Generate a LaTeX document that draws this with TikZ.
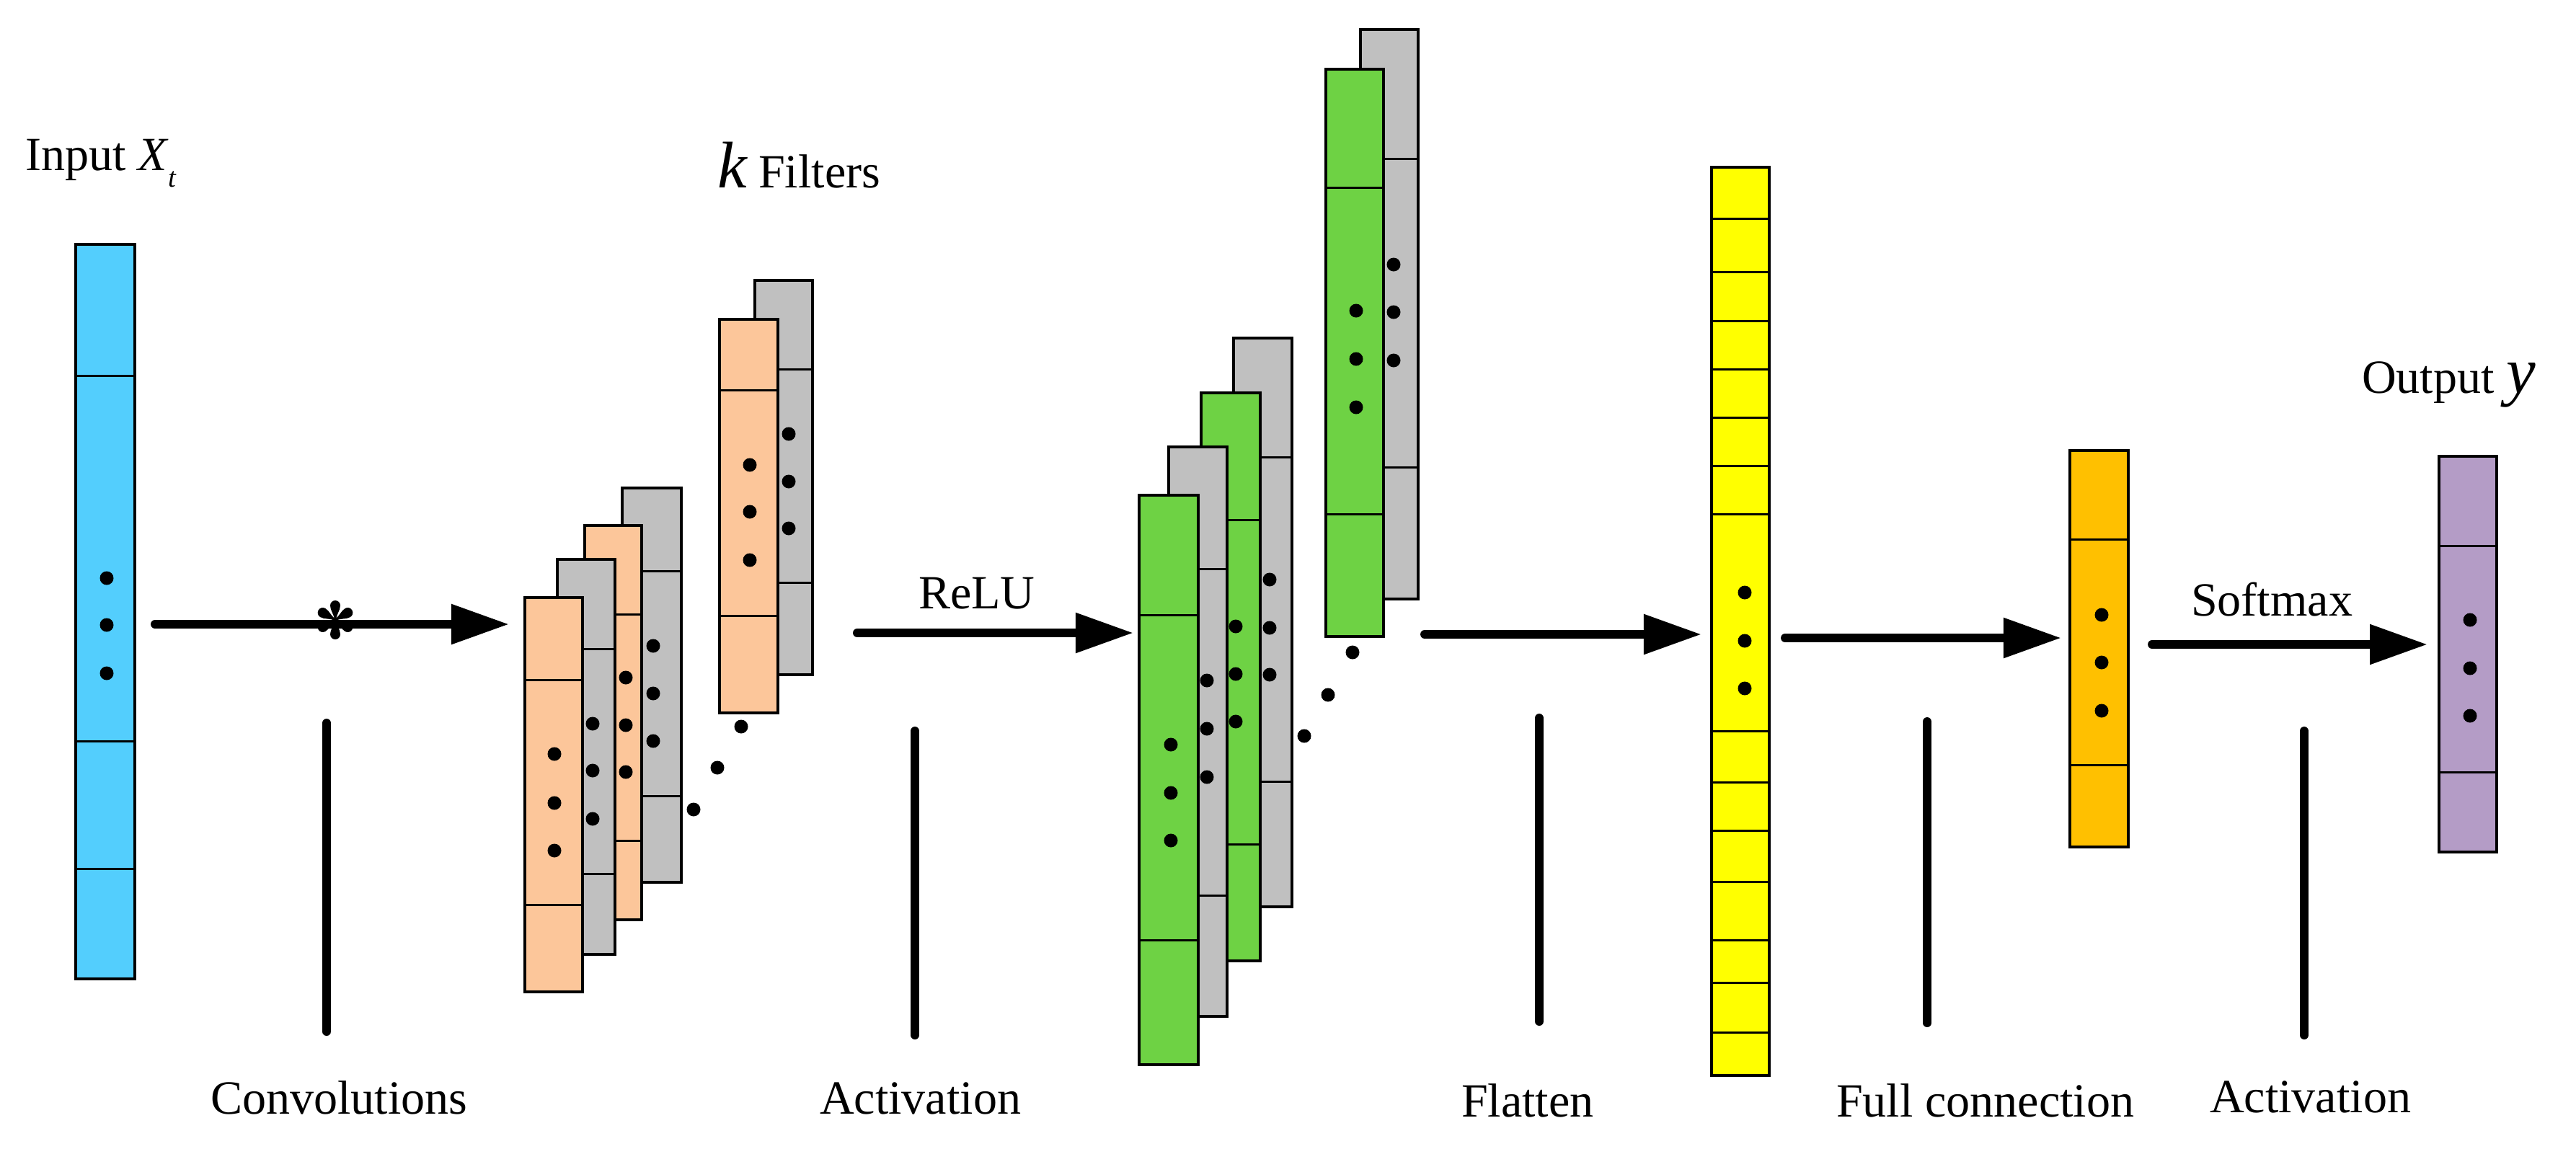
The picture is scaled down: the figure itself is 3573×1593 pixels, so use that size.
\documentclass[tikz,border=0pt]{standalone}
\usepackage{fontspec}
\setmainfont{Liberation Serif}
\usetikzlibrary{arrows.meta,fit}
\definecolor{cblue}{RGB}{83,206,253}
\definecolor{cpeach}{RGB}{252,198,154}
\definecolor{cgrey}{RGB}{192,192,192}
\definecolor{cgreen}{RGB}{110,210,68}
\definecolor{cyellow}{RGB}{255,255,0}
\definecolor{corange}{RGB}{255,192,0}
\definecolor{cpurple}{RGB}{180,156,198}
\tikzset{
 col/.style={draw=black, line width=1.3pt, inner sep=0pt, outer sep=0pt},
 div/.style={line width=0.85pt},
 arr/.style={line width=3.4pt, line cap=round, -{Triangle[length=0.8cm,width=0.53cm]}},
 vbar/.style={line width=3.4pt, line cap=round},
 lbl/.style={anchor=base west, inner sep=0pt, outer sep=0pt, font=\fontsize{18.8}{22}\selectfont},
}
\newcommand\mkcol[9]{%
  \node[col, fill=#2, fit={(#3,#4) (#5,#6)}] (#1) {};
  \foreach \yy in {#7} {\draw[div] (#3,\yy) -- (#5,\yy);}
  \foreach \yy in {#9} {\fill (#8,\yy) circle[radius=9.5];}
}
\newcommand\bigit[1]{{\fontsize{26}{26}\selectfont\itshape #1}}
\begin{document}
\begin{tikzpicture}[x=0.01cm,y=-0.01cm]
\fill[white] (0,0) rectangle (3573,1593);
\useasboundingbox (0,0) rectangle (3573,1593);

% input
\mkcol{inp}{cblue}{105}{339}{187}{1358}{521,1028,1205}{148}{802,867,934}

% convolution feature maps
\mkcol{fB3}{cgrey}{1047}{389}{1127}{936}{512,808}{1094}{602,668,733}
\mkcol{fA3}{cpeach}{998}{443}{1079}{989}{541,854}{1040}{645,710,777}
\mkcol{fB2}{cgrey}{863}{677}{945}{1224}{792,1104}{906}{896,962,1028}
\mkcol{fA2}{cpeach}{811}{729}{890}{1276}{852,1166}{868}{940,1006,1071}
\mkcol{fB1}{cgrey}{773}{776}{853}{1324}{900,1212}{822}{1004,1069,1136}
\mkcol{fA1}{cpeach}{728}{829}{808}{1376}{943,1255}{769}{1046,1114,1180}
\foreach \p in {(962,1123),(995,1065),(1028,1008)} {\fill \p circle[radius=9.5];}

% activation maps
\mkcol{aB3}{cgrey}{1887}{41}{1967}{831}{220,648}{1933}{367,433,500}
\mkcol{aA3}{cgreen}{1839}{96}{1919}{883}{260,713}{1881}{431,498,565}
\mkcol{aB2}{cgrey}{1711}{469}{1792}{1258}{634,1084}{1761}{804,871,936}
\mkcol{aA2}{cgreen}{1666}{545}{1748}{1333}{721,1171}{1714}{869,935,1001}
\mkcol{aB1}{cgrey}{1621}{620}{1702}{1410}{789,1242}{1674}{944,1011,1078}
\mkcol{aA1}{cgreen}{1580}{687}{1662}{1477}{853,1304}{1624}{1033,1100,1166}
\foreach \p in {(1809,1021),(1842,964),(1876,905)} {\fill \p circle[radius=9.5];}

% flatten, full connection, output
\mkcol{flat}{cyellow}{2374}{232}{2454}{1492}{303,377,445,512,579,646,713,1014,1085,1152,1223,1304,1363,1432}{2420}{822,889,955}
\mkcol{fc}{corange}{2871}{625}{2952}{1175}{748,1061}{2915}{853,919,986}
\mkcol{out}{cpurple}{3383}{633}{3463}{1182}{757,1071}{3426}{860,927,993}

% arrows
\coordinate (a1s) at (215,866);  \coordinate (a1e) at (706,866);
\coordinate (a2s) at (1189,878); \coordinate (a2e) at (1572,878);
\coordinate (a3s) at (1976,880); \coordinate (a3e) at (2360,880);
\coordinate (a4s) at (2476,885); \coordinate (a4e) at (2859,885);
\coordinate (a5s) at (2985,894); \coordinate (a5e) at (3367,894);
\draw[arr] (a1s) -- (a1e);
\draw[arr] (a2s) -- (a2e);
\draw[arr] (a3s) -- (a3e);
\draw[arr] (a4s) -- (a4e);
\draw[arr] (a5s) -- (a5e);

% asterisk
\begin{scope}[shift={(465,860)}, x=0.01cm, y=0.01cm]
  \foreach \a in {90,30,150,210,270,330} {
    \fill[rotate=\a] (0,-1.2) .. controls (8,-1.5) and (13,-7) .. (20,-7)
      arc[start angle=-90,end angle=90,radius=7]
      .. controls (13,7) and (8,1.5) .. (0,1.2) -- cycle;
  }
  \fill (0,0) circle[radius=3];
\end{scope}

% vertical bars
\coordinate (v1t) at (453,1003);  \coordinate (v1b) at (453,1431);
\coordinate (v2t) at (1269,1014); \coordinate (v2b) at (1269,1436);
\coordinate (v3t) at (2135,996);  \coordinate (v3b) at (2135,1417);
\coordinate (v4t) at (2673,1001); \coordinate (v4b) at (2673,1419);
\coordinate (v5t) at (3196,1014); \coordinate (v5b) at (3196,1436);
\draw[vbar] (v1t) -- (v1b);
\draw[vbar] (v2t) -- (v2b);
\draw[vbar] (v3t) -- (v3b);
\draw[vbar] (v4t) -- (v4b);
\draw[vbar] (v5t) -- (v5b);

% labels
\node[lbl] (tin) at (35,236) {Input \textit{X}\raisebox{-0.36em}{\fontsize{11}{11}\selectfont\itshape t}};
\node[lbl] (tk) at (995,260) {\bigit{k} Filters};
\node[lbl] (trelu) at (1274,844) {ReLU};
\node[lbl] (tsoft) at (3039,854) {Softmax};
\node[lbl] (tout) at (3276,545) {Output \bigit{y}};
\node[lbl] (tconv) at (292,1545) {Convolutions};
\node[lbl] (tact1) at (1137,1545) {Activation};
\node[lbl] (tflat) at (2027,1549) {Flatten};
\node[lbl] (tfull) at (2547,1549) {Full connection};
\node[lbl] (tact2) at (3065,1543) {Activation};
\end{tikzpicture}
\end{document}
